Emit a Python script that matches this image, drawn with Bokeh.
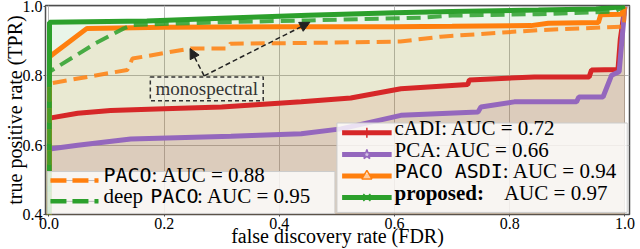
from bokeh.plotting import figure
from bokeh.models import Label, Arrow, NormalHead, Range1d, FixedTicker, CustomJSTickFormatter
from bokeh.embed import file_html
from bokeh.resources import INLINE

# ---------------- data ----------------
cadi_fdr = [0, 0.001, 0.05, 0.107, 0.2, 0.3, 0.438, 0.524, 0.611, 0.727, 0.73, 0.843, 0.938, 0.942, 0.988, 0.992, 1.0]
cadi_tpr = [0, 0.678, 0.692, 0.700, 0.705, 0.710, 0.725, 0.736, 0.763, 0.775, 0.788, 0.797, 0.797, 0.817, 0.818, 0.905, 1.0]

pca_fdr = [0, 0.001, 0.05, 0.142, 0.316, 0.438, 0.507, 0.611, 0.745, 0.75, 0.808, 0.916, 0.92, 0.962, 0.977, 0.99, 1.0]
pca_tpr = [0, 0.589, 0.600, 0.618, 0.626, 0.633, 0.647, 0.686, 0.696, 0.710, 0.725, 0.725, 0.739, 0.739, 0.802, 0.812, 1.0]

asdi_fdr = [0, 0.001, 0.066, 0.2, 0.4, 0.6, 0.7, 0.837, 0.867, 0.954, 0.958, 0.994, 1.0]
asdi_tpr = [0, 0.855, 0.937, 0.940, 0.942, 0.942, 0.943, 0.945, 0.952, 0.954, 0.976, 0.978, 1.0]

prop_fdr = [0, 0.001, 0.17, 0.3, 0.45, 0.6, 0.7, 0.85, 0.95, 1.0]
prop_tpr = [0, 0.955, 0.958, 0.966, 0.975, 0.982, 0.986, 0.990, 0.993, 1.0]

paco_fdr = [0, 0.001, 0.136, 0.145, 0.246, 0.31, 0.315, 0.45, 0.61, 0.68, 0.85, 0.998, 1.0]
paco_tpr = [0, 0.778, 0.817, 0.850, 0.879, 0.879, 0.893, 0.895, 0.899, 0.913, 0.932, 0.942, 1.0]

deep_fdr = [0, 0.001, 0.081, 0.13, 0.147, 0.3, 0.45, 0.646, 0.7, 0.85, 0.98, 1.0]
deep_tpr = [0, 0.812, 0.894, 0.937, 0.947, 0.955, 0.960, 0.968, 0.974, 0.978, 0.985, 1.0]

x_ticks = [0.0, 0.2, 0.4, 0.6, 0.8, 1.0]
y_ticks = [0.4, 0.6, 0.8, 1.0]

x_title = "false discovery rate (FDR)"
y_title = "true positive rate (TPR)"
right_names = ["cADI", "PCA", "PACO ASDI", "proposed:"]
right_aucs = [": AUC = 0.72", ": AUC = 0.66", ": AUC = 0.94", "AUC = 0.97"]
left_aucs = [": AUC = 0.88", ": AUC = 0.95"]
note_text = "monospectral"

# ---------------- style ----------------
RED, PURPLE, ORANGE, GREEN = "#d62728", "#9467bd", "#ff7f0e", "#2ca02c"
SERIF = "Liberation Serif"
MONO = "DejaVu Sans Mono"

p = figure(width=640, height=249, output_backend="svg", toolbar_location=None,
           x_range=Range1d(-0.006, 1.008), y_range=Range1d(0.4, 1.003),
           min_border_left=0, min_border_right=11, min_border_top=5, min_border_bottom=0,
           x_axis_label=x_title, y_axis_label=y_title)
p.background_fill_color = "white"
p.border_fill_color = "white"
p.outline_line_color = "#4d4d4d"
p.outline_line_width = 1.5

for ax, ticks in ((p.xaxis, x_ticks), (p.yaxis, y_ticks)):
    ax.ticker = FixedTicker(ticks=ticks)
    ax.formatter = CustomJSTickFormatter(code="return tick.toFixed(1);")
    ax.axis_line_color = None
    ax.major_tick_line_color = "#4d4d4d"
    ax.major_tick_in = 0
    ax.major_tick_out = 2
    ax.minor_tick_line_color = None
    ax.major_label_text_font = SERIF
    ax.major_label_text_font_size = "16px"
    ax.major_label_text_color = "black"
    ax.major_label_standoff = 1
    ax.axis_label_text_font = SERIF
    ax.axis_label_text_font_size = "20px"
    ax.axis_label_text_font_style = "normal"
    ax.axis_label_text_color = "black"
p.xaxis.axis_label_standoff = -7
p.yaxis.axis_label_standoff = -6

p.xgrid.ticker = FixedTicker(ticks=x_ticks)
p.ygrid.ticker = FixedTicker(ticks=y_ticks)
for g in (p.xgrid, p.ygrid):
    g.grid_line_color = "#b8b8b8"
    g.grid_line_width = 1

# fills under the solid curves
for fx, fy, c in ((cadi_fdr, cadi_tpr, RED), (pca_fdr, pca_tpr, PURPLE),
                  (asdi_fdr, asdi_tpr, ORANGE), (prop_fdr, prop_tpr, GREEN)):
    p.varea(x=fx, y1=[0] * len(fx), y2=fy, fill_color=c, fill_alpha=0.1)

# curves
p.line(cadi_fdr, cadi_tpr, line_color=RED, line_width=5)
p.line(pca_fdr, pca_tpr, line_color=PURPLE, line_width=5)
p.line(asdi_fdr, asdi_tpr, line_color=ORANGE, line_width=5)
p.line(prop_fdr, prop_tpr, line_color=GREEN, line_width=5)
p.line(paco_fdr, paco_tpr, line_color=ORANGE, line_width=4, line_dash="14 7", line_alpha=0.85)
p.line(deep_fdr, deep_tpr, line_color=GREEN, line_width=4, line_dash="14 7", line_alpha=0.85)

# annotation "monospectral"
NOTE_BOX = dict(left=0.176, right=0.372, top=0.797, bottom=0.728)
p.quad(**NOTE_BOX, fill_color="white", fill_alpha=0.3, line_color="#333333",
       line_dash="4 3", line_width=1.5)
p.add_layout(Label(x=0.274, y=0.7625, text=note_text, text_font=SERIF, text_font_size="19px",
                   text_color="#333333", text_align="center", text_baseline="middle"))
ARROW_START = (0.2695, 0.800)
ARROW_ENDS = [(0.245, 0.879), (0.453, 0.9545)]
for ex, ey in ARROW_ENDS:
    p.add_layout(Arrow(end=NormalHead(size=10, fill_color="#222222", line_color="#222222"),
                       x_start=ARROW_START[0], y_start=ARROW_START[1], x_end=ex, y_end=ey,
                       line_color="#222222", line_width=1.5, line_dash="5 3"))

# ---------------- legends ----------------
p.quad(left=-0.003, right=0.4965, top=0.524, bottom=0.403, fill_color="white", fill_alpha=0.8,
       line_color="#cccccc", line_width=1)
p.quad(left=0.500, right=1.004, top=0.664, bottom=0.406, fill_color="white", fill_alpha=0.8,
       line_color="#cccccc", line_width=1)

R_BASE = [0.615, 0.552, 0.490, 0.428]
R_COLORS = [RED, PURPLE, ORANGE, GREEN]
R_MARK = ["dash", "star", "triangle", "x"]
R_SX0, R_SX1, R_TX = 0.509, 0.595, 0.600
for i in range(4):
    ys = R_BASE[i] + 0.021
    p.line([R_SX0, R_SX1], [ys, ys], line_color=R_COLORS[i], line_width=5)
    p.scatter([(R_SX0 + R_SX1) / 2], [ys], marker=R_MARK[i], size=10, angle=1.5708 if i == 0 else 0,
              line_color=R_COLORS[i], fill_color="white", fill_alpha=0.6, line_width=1.5)

p.add_layout(Label(x=R_TX, y=R_BASE[0], text=right_names[0] + right_aucs[0], text_font=SERIF,
                   text_font_size="21px", text_color="black"))
p.add_layout(Label(x=R_TX, y=R_BASE[1], text=right_names[1] + right_aucs[1], text_font=SERIF,
                   text_font_size="21px", text_color="black"))
p.add_layout(Label(x=R_TX, y=R_BASE[2], text=right_names[2], text_font=MONO,
                   text_font_size="20px", text_color="black"))
p.add_layout(Label(x=0.788, y=R_BASE[2], text=right_aucs[2], text_font=SERIF,
                   text_font_size="21px", text_color="black"))
p.add_layout(Label(x=R_TX, y=R_BASE[3], text=right_names[3], text_font=SERIF,
                   text_font_size="21px", text_font_style="bold", text_color="black"))
p.add_layout(Label(x=0.790, y=R_BASE[3], text=right_aucs[3], text_font=SERIF,
                   text_font_size="21px", text_color="black"))

L_BASE = [0.478, 0.418]
L_COLORS = [ORANGE, GREEN]
L_SX0, L_SX1, L_TX = 0.0026, 0.086, 0.0945
for i in range(2):
    ys = L_BASE[i] + 0.02
    p.line([L_SX0, L_SX1], [ys, ys], line_color="#bbbbbb", line_width=1)
    p.line([L_SX0, L_SX1], [ys, ys], line_color=L_COLORS[i], line_width=4.5, line_dash="16 6")

p.add_layout(Label(x=L_TX, y=L_BASE[0], text="PACO", text_font=MONO, text_font_size="20px",
                   text_color="black"))
p.add_layout(Label(x=0.178, y=L_BASE[0], text=left_aucs[0], text_font=SERIF, text_font_size="21px",
                   text_color="black"))
p.add_layout(Label(x=L_TX, y=L_BASE[1], text="deep", text_font=SERIF, text_font_size="21px",
                   text_color="black"))
p.add_layout(Label(x=0.176, y=L_BASE[1], text="PACO", text_font=MONO, text_font_size="20px",
                   text_color="black"))
p.add_layout(Label(x=0.257, y=L_BASE[1], text=left_aucs[1], text_font=SERIF, text_font_size="21px",
                   text_color="black"))

open("out.html", "w").write(file_html(p, INLINE))
